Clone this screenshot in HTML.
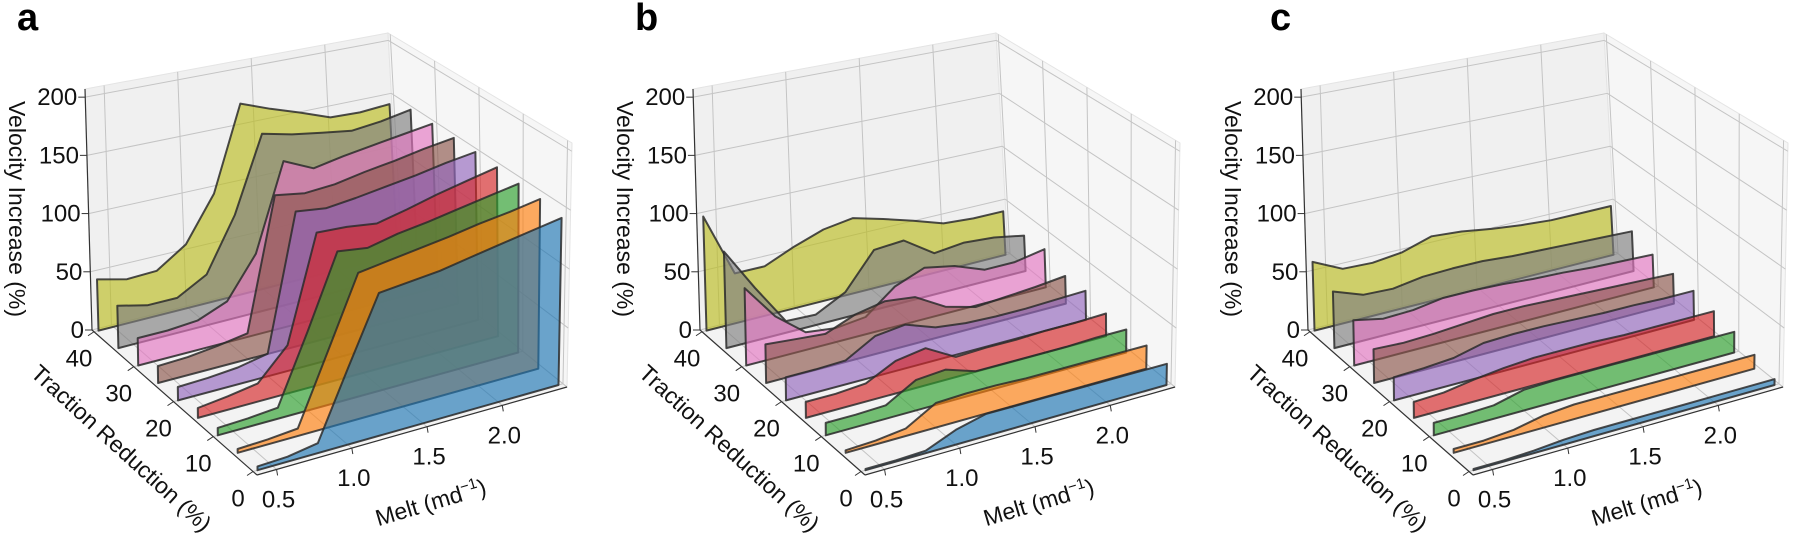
<!DOCTYPE html>
<html><head><meta charset="utf-8"><style>
html,body{margin:0;padding:0;background:#fff;}
svg{display:block;font-family:"Liberation Sans",Arial,sans-serif;}
</style></head><body>
<svg id="fig" width="1796" height="546" viewBox="0 0 1796 546"></svg>
<script>
// ---------- data ----------
const melt = [0.4,0.6,0.8,1.0,1.2,1.4,1.6,1.8,2.0,2.2,2.4];
const traction = [0,5,10,15,20,25,30,35,40];
const zTicks = [0,50,100,150,200];
const tTicks = [0,10,20,30,40];
const mTicks = [0.5,1.0,1.5,2.0];
const panelLabels = ["a","b","c"];
const seriesColors = ["#1f77b4","#ff7f0e","#2ca02c","#d62728","#9467bd","#8c564b","#e377c2","#7f7f7f","#bcbd22"];
// panel a, series ordered by traction 0..40
const panelA_t0  = [3,4,8,62,116,119,122,127,132,137,142];
const panelA_t5  = [3,4,6,62,120,124,128,132,137,141,146];
const panelA_t10 = [6,7,9,65,125,122,128,132,137,142,147];
const panelA_t15 = [8,11,15,40,128,127,124,130,137,143,149];
const panelA_t20 = [11,12,14,19,133,130,133,137,141,146,150];
const panelA_t25 = [14,15,18,22,134,130,132,137,141,146,150];
const panelA_t30 = [23,23,25,35,70,145,133,138,142,146,150];
const panelA_t35 = [36,30,30,44,90,156,150,146,142,145,150];
const panelA_t40 = [44,38,39,56,95,170,160,151,141,140,142];
// panel b
const panelB_t0  = [1,1,2,12,18,18,18,18,18,18,18];
const panelB_t5  = [2,3,6,20,21,21,20,20,20,20,20];
const panelB_t10 = [10,10,11,25,27,19,19,19,19,20,20];
const panelB_t15 = [13,13,15,27,31,17,18,18,19,19,20];
const panelB_t20 = [19,19,20,34,37,28,25,24,24,25,26];
const panelB_t25 = [32,30,28,38,43,40,25,18,20,22,25];
const panelB_t30 = [65,35,15,12,15,35,45,40,30,30,35];
const panelB_t35 = [82,45,10,9,22,53,55,37,40,38,33];
const panelB_t40 = [98,43,43,54,63,67,60,52,43,41,41];
// panel c
const panelC_t0  = [1,1,2,4,5,5,5,5,5,5,5];
const panelC_t5  = [3,3,5,10,12,12,12,12,12,12,12];
const panelC_t10 = [10,10,11,17,18,18,18,18,18,18,18];
const panelC_t15 = [13,14,18,21,23,23,23,22,22,22,22];
const panelC_t20 = [19,20,22,28,29,29,28,27,27,26,26];
const panelC_t25 = [28,27,28,30,32,32,31,30,29,28,27];
const panelC_t30 = [38,33,34,38,38,37,35,34,32,31,30];
const panelC_t35 = [48,39,38,42,43,43,41,40,39,38,37];
const panelC_t40 = [59,47,46,49,57,55,51,48,46,46,46];

const panelSeries = [
  [panelA_t0,panelA_t5,panelA_t10,panelA_t15,panelA_t20,panelA_t25,panelA_t30,panelA_t35,panelA_t40],
  [panelB_t0,panelB_t5,panelB_t10,panelB_t15,panelB_t20,panelB_t25,panelB_t30,panelB_t35,panelB_t40],
  [panelC_t0,panelC_t5,panelC_t10,panelC_t15,panelC_t20,panelC_t25,panelC_t30,panelC_t35,panelC_t40]
];

// ---------- geometry ----------
const NS = "http://www.w3.org/2000/svg";
const svg = document.getElementById("fig");
const mMin=0.37, mMax=2.43, tMin=-1, tMax=40.5, zMax=207;
const FL=[257,475], FR=[567,387], BL=[92,330], BR=[400,252];
const FLt=[257,211], FRt=[572,143], BLt=[85,89], BRt=[388,33];
const panelDx=[0,608,1216];
const letterX=[17,635,1270];

function lerp(a,b,s){return [a[0]+(b[0]-a[0])*s, a[1]+(b[1]-a[1])*s];}
function bil(p00,p10,p01,p11,u,v){return lerp(lerp(p00,p10,u), lerp(p01,p11,u), v);}
function proj(m,t,z,dx){
  const u=(m-mMin)/(mMax-mMin), v=(t-tMin)/(tMax-tMin), w=z/zMax;
  const f=bil(FL,FR,BL,BR,u,v), tp=bil(FLt,FRt,BLt,BRt,u,v);
  const p=lerp(f,tp,w);
  return [p[0]+dx, p[1]];
}
function mk(tag, attrs, parent){
  const e=document.createElementNS(NS,tag);
  for(const k in attrs) e.setAttribute(k, attrs[k]);
  (parent||svg).appendChild(e);
  return e;
}
function pts(arr){return arr.map(p=>p[0].toFixed(1)+","+p[1].toFixed(1)).join(" ");}
function line(p,q,stroke,w,parent){
  return mk("line",{x1:p[0],y1:p[1],x2:q[0],y2:q[1],stroke:stroke,"stroke-width":w},parent);
}

function drawPanel(pi){
  const dx=panelDx[pi];
  const g=mk("g",{});
  
  

  const back=mk("polygon",{points:pts([proj(mMin,tMax,0,dx),proj(mMax,tMax,0,dx),proj(mMax,tMax,zMax,dx),proj(mMin,tMax,zMax,dx)]),fill:"#f0f0f0",stroke:"#e4e4e4"},g);
  
  
  const side=mk("polygon",{points:pts([proj(mMax,tMin,0,dx),proj(mMax,tMax,0,dx),proj(mMax,tMax,zMax,dx),proj(mMax,tMin,zMax,dx)]),fill:"#f6f6f6",stroke:"#e4e4e4"},g);
  
  
  const floor=mk("polygon",{points:pts([proj(mMin,tMin,0,dx),proj(mMax,tMin,0,dx),proj(mMax,tMax,0,dx),proj(mMin,tMax,0,dx)]),fill:"#f3f3f3",stroke:"#e4e4e4"},g);
  
  

  const gc="#c4c4c4";
  mTicks.forEach(m=>{
    line(proj(m,tMax,0,dx),proj(m,tMax,zMax,dx),gc,1,g);
    line(proj(m,tMin,0,dx),proj(m,tMax,0,dx),gc,1,g);
  });
  zTicks.forEach(z=>{
    line(proj(mMin,tMax,z,dx),proj(mMax,tMax,z,dx),gc,1,g);
    line(proj(mMax,tMin,z,dx),proj(mMax,tMax,z,dx),gc,1,g);
  });
  tTicks.forEach(t=>{
    line(proj(mMax,t,0,dx),proj(mMax,t,zMax,dx),gc,1,g);
    line(proj(mMin,t,0,dx),proj(mMax,t,0,dx),gc,1,g);
  });

  const ax="#333";
  const zAxis=line(proj(mMin,tMax,0,dx),proj(mMin,tMax,zMax,dx),ax,1.2,g);
  
  
  const tAxis=line(proj(mMin,tMax,0,dx),proj(mMin,tMin,0,dx),ax,1.2,g);
  
  
  const mAxis=line(proj(mMin,tMin,0,dx),proj(mMax,tMin,0,dx),ax,1.2,g);
  
  

  zTicks.forEach(z=>{
    const p=proj(mMin,tMax,z,dx);
    line([p[0]-7,p[1]],p,ax,1,g);
    const tx=mk("text",{x:p[0]-8,y:p[1]+8,"text-anchor":"end","font-size":"24",fill:"#111"},g);
    tx.textContent=String(z);
    
    
  });
  tTicks.forEach(t=>{
    const p=proj(mMin,t,0,dx);
    line(p,[p[0]-6,p[1]+4],ax,1,g);
    const tx=mk("text",{x:p[0]-15,y:p[1]+35,"text-anchor":"middle","font-size":"24",fill:"#111"},g);
    tx.textContent=String(t);
    
    
  });
  mTicks.forEach(m=>{
    const p=proj(m,tMin,0,dx);
    line(p,[p[0]+1,p[1]+6],ax,1,g);
    const tx=mk("text",{x:p[0]+2,y:p[1]+38,"text-anchor":"middle","font-size":"24",fill:"#111"},g);
    tx.textContent=m.toFixed(1);
    
    
  });

  const zt=mk("text",{x:0,y:0,"font-size":"23",fill:"#111","text-anchor":"middle",transform:`translate(${9+dx},209) rotate(90)`},g);
  zt.textContent="Velocity Increase (%)";
  
  
  const tt=mk("text",{x:0,y:0,"font-size":"23",fill:"#111","text-anchor":"middle",transform:`translate(${116+dx},454) rotate(42.4)`},g);
  tt.textContent="Traction Reduction (%)";
  
  
  const mt=mk("text",{x:0,y:0,"font-size":"23",fill:"#111","text-anchor":"middle",transform:`translate(${433+dx},510) rotate(-16.5)`},g);
  mt.innerHTML='Melt (md<tspan dy="-9" font-size="15">−1</tspan><tspan dy="9">)</tspan>';
  
  

  const series=panelSeries[pi];
  for(let si=traction.length-1; si>=0; si--){
    const t=traction[si], vals=series[si];
    const poly=[];
    for(let k=0;k<melt.length;k++) poly.push(proj(melt[k],t,vals[k],dx));
    poly.push(proj(melt[melt.length-1],t,0,dx));
    poly.push(proj(melt[0],t,0,dx));
    const p=mk("polygon",{points:pts(poly),fill:seriesColors[si],"fill-opacity":"0.65",stroke:"#2b2b2b","stroke-opacity":"0.85","stroke-width":"2","stroke-linejoin":"round"},g);
    
    
  }

  const L=mk("text",{x:letterX[pi],y:30,"font-size":"38","font-weight":"bold",fill:"#000"},g);
  L.textContent=panelLabels[pi];
  
  
}
[0,1,2].forEach(drawPanel);
</script>
</body></html>
